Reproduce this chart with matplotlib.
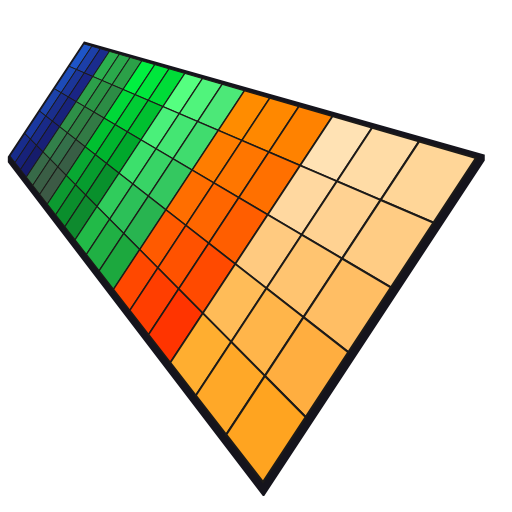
import numpy as np
import matplotlib
matplotlib.use("Agg")
import matplotlib.pyplot as plt
from matplotlib.patches import Polygon

# cell colours, 5 rows x 3 sub-columns for each of the 6 blocks
blue = [["#1e55c8", "#1c3fa8", "#1a2c8e"],
        ["#1d4bb8", "#1b3598", "#1a2585"],
        ["#1c42aa", "#1a2e8c", "#18237c"],
        ["#1a38a0", "#192a88", "#182078"],
        ["#182c8c", "#17227a", "#161c6c"]]
dark_green = [["#2bb04e", "#2aa84b", "#2ba048"],
              ["#2ca04a", "#2a9545", "#2c8c45"],
              ["#2e9048", "#2f8244", "#327a45"],
              ["#32804a", "#34704a", "#385e45"],
              ["#376a48", "#3a5e45", "#3c5a45"]]
green = [["#00f040", "#00e63c", "#00dc38"],
         ["#00d838", "#00cc34", "#00c030"],
         ["#00c030", "#00b42e", "#00a82c"],
         ["#08a832", "#069c2e", "#08902c"],
         ["#0c9a30", "#0a8e2c", "#0e8a2e"]]
light_green = [["#55ff80", "#50f47c", "#4ce878"],
               ["#4af07a", "#44e673", "#40dc6e"],
               ["#3ce06c", "#38d466", "#34c860"],
               ["#30cc5c", "#2cc058", "#28b450"],
               ["#22ba48", "#20b044", "#1ca83e"]]
orange = [["#ff8c00", "#ff8800", "#ff8200"],
          ["#ff7d00", "#ff7600", "#ff7000"],
          ["#ff6e00", "#ff6600", "#ff5e00"],
          ["#ff5a00", "#ff5200", "#ff4a00"],
          ["#ff4800", "#ff3e00", "#ff3400"]]
light_orange = [["#ffe2b4", "#ffdca6", "#ffd698"],
                ["#ffd8a0", "#ffd292", "#ffcc84"],
                ["#ffca80", "#ffc470", "#ffbe64"],
                ["#ffbc58", "#ffb54a", "#ffae40"],
                ["#ffae30", "#ffa828", "#ffa420"]]
blocks = [blue, dark_green, green, light_green, orange, light_orange]

n_rows = 5
n_cols = 3 * len(blocks)

# corners of the tilted plane on the canvas (pixels)
corners = np.array([[84, 44], [476, 158], [263, 482], [10, 156]], float)
square = np.array([[0, 0], [1, 0], [1, 1], [0, 1]], float)

def homography(src, dst):
    rows = []
    for (x, y), (X, Y) in zip(src, dst):
        rows.append([x, y, 1, 0, 0, 0, -X * x, -X * y, -X])
        rows.append([0, 0, 0, x, y, 1, -Y * x, -Y * y, -Y])
    _, _, vt = np.linalg.svd(np.array(rows))
    return vt[-1].reshape(3, 3)

H = homography(square, corners)

def warp(u, v):
    p = H @ np.array([u, v, 1.0])
    return p[:2] / p[2]

def scale_at(u):
    p = H @ np.array([u, 0.5, 1.0])
    return 1.0 / abs(p[2])

s0 = scale_at(0.0)

fig = plt.figure(figsize=(5.12, 5.12), dpi=100)
ax = fig.add_axes([0, 0, 1, 1])
ax.set_xlim(0, 512)
ax.set_ylim(512, 0)
ax.axis("off")

# dark frame around the plane, with some thickness on the lower sides
eu, ev = 0.0045, 0.013
frame = [warp(-eu, -ev), warp(1 + eu, -ev), warp(1 + eu, 1 + ev), warp(-eu, 1 + ev)]
drop = np.array([0, 5])
fa, fb, fc, fd = frame
ax.add_patch(Polygon([fa, fb, fb + drop, fc + drop, fd + drop, fd], closed=True,
                     facecolor="#15141c", edgecolor="#15141c", linewidth=1.2,
                     zorder=1))

for r in range(n_rows):
    for c in range(n_cols):
        col = blocks[c // 3][r][c % 3]
        u0, u1 = c / n_cols, (c + 1) / n_cols
        v0, v1 = r / n_rows, (r + 1) / n_rows
        pts = [warp(u0, v0), warp(u1, v0), warp(u1, v1), warp(u0, v1)]
        lw = 0.55 * scale_at((u0 + u1) / 2) / s0
        ax.add_patch(Polygon(pts, closed=True, facecolor=col,
                             edgecolor="#1c1a18", linewidth=lw, zorder=2))

fig.savefig("out.png", dpi=100)
